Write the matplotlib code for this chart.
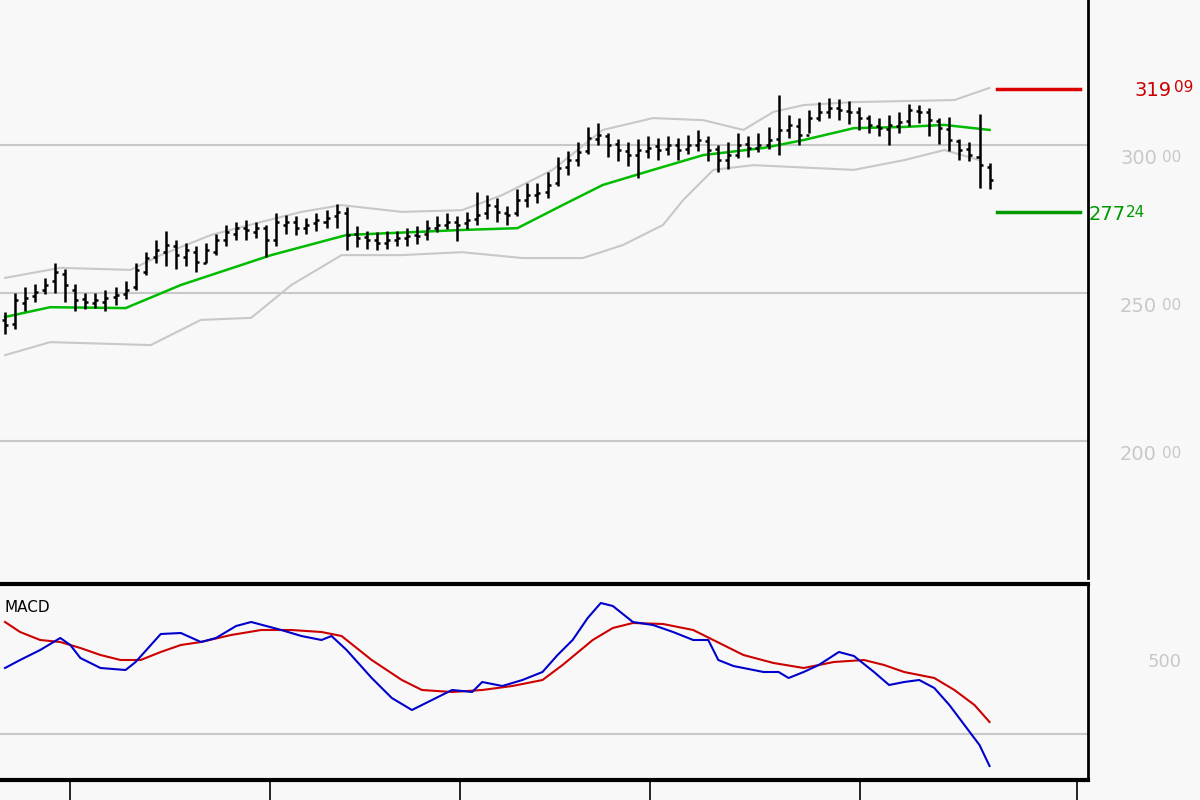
import matplotlib
matplotlib.use("Agg")
import matplotlib.pyplot as plt
from matplotlib.lines import Line2D

closes = [239.2,247.6,248.3,250.3,252.7,257.1,252.7,247.6,246.9,247.6,248.3,249.3,251.0,257.8,261.8,264.5,266.2,262.8,264.5,260.5,
          264.5,267.9,270.6,271.9,271.3,271.9,267.9,274.0,274.0,271.9,273.0,274.7,275.3,277.4,269.6,268.6,267.9,266.9,267.9,268.6,
          269.2,269.2,271.9,273.0,274.0,273.0,274.7,276.3,279.7,277.4,276.3,281.4,283.1,283.8,286.5,292.2,294.9,297.6,302.4,303.4,
          300.0,298.3,296.6,298.3,299.0,298.3,300.0,298.3,300.0,301.7,298.3,294.9,296.6,300.0,299.0,300.0,301.7,305.1,306.8,303.4,
          309.1,311.2,312.5,311.8,311.2,309.1,306.8,305.7,306.8,307.8,311.8,311.2,308.4,305.7,301.7,298.3,296.6,293.2,288.2]
opens = [241.0,239.5,246.5,249.0,251.0,254.0,256.5,251.0,248.0,246.5,247.0,248.5,249.5,252.0,257.0,262.0,264.0,266.0,262.0,264.0,
         260.0,264.0,268.0,270.0,272.0,270.5,272.0,268.0,273.0,274.0,272.0,273.5,274.0,276.0,277.0,270.0,269.0,268.0,267.0,268.0,
         268.5,269.5,270.0,272.0,273.0,274.0,273.5,275.0,277.0,279.5,277.0,277.0,281.5,283.0,284.0,287.0,292.5,295.0,298.0,302.0,
         303.0,300.5,298.0,296.5,298.0,299.5,298.5,300.0,298.5,300.0,301.5,298.5,295.0,296.5,300.5,299.0,300.0,302.0,305.0,306.5,
         303.5,309.0,311.0,312.5,311.5,311.0,309.0,306.5,305.5,306.5,308.0,311.5,311.0,308.0,305.5,301.5,298.5,296.0,292.5]
highs = [243.5,250.0,252.0,253.0,255.0,260.0,258.0,253.0,250.0,250.0,251.0,252.0,254.0,260.0,264.0,268.0,271.0,268.0,267.0,266.0,
         267.0,270.0,273.0,274.0,274.5,274.0,273.0,277.0,276.5,276.0,275.5,277.0,278.0,280.0,279.0,272.5,271.0,270.5,271.0,271.0,
         272.0,272.5,274.5,276.0,277.0,276.0,277.5,284.0,283.0,282.0,279.5,285.0,287.0,287.0,291.0,296.0,298.0,301.0,306.0,307.5,
         304.0,302.0,301.0,302.0,303.0,302.5,303.0,302.5,303.5,305.0,303.0,300.0,301.0,304.0,303.0,304.0,306.0,317.0,310.0,309.0,
         312.0,314.5,316.0,315.5,315.0,313.0,310.0,309.0,310.0,311.0,314.0,313.5,312.5,309.0,309.5,302.0,301.0,310.5,294.0]
lows = [236.0,238.0,244.0,247.0,249.5,250.0,247.0,244.0,244.5,245.0,244.0,246.0,248.0,251.0,256.0,260.0,259.0,258.0,259.0,257.0,
        260.0,263.0,266.0,268.0,268.0,268.5,262.0,266.0,270.0,269.5,270.0,271.0,272.0,272.0,264.5,265.5,265.0,264.5,265.0,266.0,
        266.0,266.5,268.0,270.5,271.5,267.5,271.5,273.0,275.0,274.0,273.0,276.0,279.0,280.5,282.0,286.0,290.0,293.0,297.0,300.0,
        296.0,294.5,293.0,289.0,295.5,295.0,296.5,295.0,297.0,298.0,294.5,291.0,292.0,295.5,296.0,297.5,298.5,296.5,302.5,300.0,
        304.0,308.0,309.0,308.5,307.0,305.0,304.0,303.0,300.0,304.0,306.5,307.5,303.0,300.5,298.0,295.0,294.5,285.5,285.0]

ma_pos = [0,4.5,12,17.5,26.5,34,45.5,51,55.5,59.5,64.5,69.5,75.5,79.5,84.5,89.5,93.5,98]
ma_val = [241.9,245.2,244.9,252.7,262.8,269.6,271.3,271.9,279.7,286.5,291.6,296.6,299.0,301.7,305.7,306.1,306.8,305.1]
up_pos = [0,5.5,12.5,15.5,20.5,25.5,29.5,33.5,39.5,45.5,49.5,54.5,59.5,64.5,69.5,73.5,76.5,79.5,84.5,94.5,98]
up_val = [255.1,258.5,257.8,262.8,269.6,274.0,277.4,279.7,277.4,278.0,283.1,291.6,305.1,309.1,308.4,305.1,311.2,313.5,314.5,315.2,319.3]
lo_pos = [0,4.5,14.5,19.5,24.5,28.5,33.5,39.5,45.5,51.5,57.5,61.5,65.5,67.5,70.5,74.5,84.5,89.5,93.5,97]
lo_val = [229.0,233.4,232.4,240.9,241.6,252.7,262.8,262.8,263.8,261.8,261.8,266.2,273.0,281.4,291.6,293.2,291.6,294.9,298.3,294.9]

macd_pos = [0,1.5,3.5,5.5,6.5,7.5,9.5,12,13,15.5,17.5,19.5,21,23,24.5,26,27.5,29.5,31.5,32.5,34,36.5,38.5,40.5,42.5,44.5,46.5,47.5,
            49.5,51.5,53.5,55,56.5,58,59.3,60.5,62.5,64.5,66.5,68.5,70,71,72.5,75.5,77,78,79.5,81,83,84.5,86.5,88,89.5,91,92.5,94,95.5,97,98]
macd_val = [6.6,7.4,8.4,9.6,8.9,7.6,6.6,6.4,7.2,10.0,10.1,9.2,9.6,10.8,11.2,10.8,10.4,9.8,9.4,9.8,8.4,5.6,3.6,2.4,3.4,4.4,4.2,5.2,
            4.8,5.4,6.2,7.9,9.4,11.6,13.1,12.8,11.2,10.9,10.2,9.4,9.4,7.4,6.8,6.2,6.2,5.6,6.2,6.9,8.2,7.8,6.2,4.9,5.2,5.4,4.6,2.9,0.9,-1.1,-3.2]
sig_pos = [0,1.5,3.5,5.5,7.5,9.5,11.5,13.5,15.5,17.5,19.5,22.5,25.5,28.5,31.5,33.5,36.5,39.5,41.5,44.5,47.5,50.5,53.5,55.5,58.5,60.5,
           62.5,65.5,68.5,70.5,73.5,76.5,79.5,82.5,85.5,87.5,89.5,92.5,94.5,96.5,98]
sig_val = [11.2,10.2,9.4,9.2,8.6,7.9,7.4,7.4,8.2,8.9,9.2,9.9,10.4,10.4,10.2,9.8,7.4,5.4,4.4,4.2,4.4,4.8,5.4,6.9,9.4,10.6,
           11.1,11.0,10.4,9.4,7.9,7.1,6.6,7.2,7.4,6.9,6.2,5.6,4.4,2.9,1.2]

price_grid = [300, 250, 200]
price_labels = [("300", "00"), ("250", "00"), ("200", "00")]
resistance = 319.09
support = 277.24

bg = "#f8f8f8"
fig = plt.figure(figsize=(12, 8), dpi=100, facecolor=bg)
ax = fig.add_axes([0, 1 - 578/800, 1088/1200, 578/800], facecolor=bg)
ax2 = fig.add_axes([0, 20/800, 1088/1200, 196/800], facecolor=bg)

xl = (-0.5, 107.8)
ax.set_xlim(*xl); ax.set_ylim(153.7, 349)
for g in price_grid:
    ax.axhline(g, color="#c8c8c8", lw=1.5, zorder=0)
ax.plot(up_pos, up_val, color="#c8c8c8", lw=1.5)
ax.plot(lo_pos, lo_val, color="#c8c8c8", lw=1.5)
ax.plot(ma_pos, ma_val, color="#00bb00", lw=1.8)
for i, (o, h, l, c) in enumerate(zip(opens, highs, lows, closes)):
    ax.plot([i, i], [l, h], color="black", lw=1.8, solid_capstyle="butt")
    ax.plot([i - 0.3, i], [o, o], color="black", lw=1.8, solid_capstyle="butt")
    ax.plot([i, i + 0.3], [c, c], color="black", lw=1.8, solid_capstyle="butt")
ax.plot([98.7, 107], [resistance, resistance], color="#dd0000", lw=2.5)
ax.plot([98.7, 107], [support, support], color="#009900", lw=2.5)
for s in ["top", "left", "bottom"]:
    ax.spines[s].set_visible(False)
ax.spines["right"].set_linewidth(2)
ax.set_xticks([]); ax.set_yticks([])
ytr = ax.get_yaxis_transform()
for g, (a, b) in zip(price_grid, price_labels):
    ax.text(1.0 + 32/1088, g - 1.5, a, transform=ytr, fontsize=14, color="#c8c8c8", va="top", ha="left", clip_on=False)
    ax.text(1.0 + 74/1088, g - 1.6, b, transform=ytr, fontsize=11, color="#c8c8c8", va="top", ha="left", clip_on=False)
ax.text(1.0 + 46/1088, resistance - 0.8, "319", transform=ytr, fontsize=14, color="#cc0000", va="center", ha="left", clip_on=False)
ax.text(1.0 + 86/1088, resistance + 0.2, "09", transform=ytr, fontsize=11, color="#cc0000", va="center", ha="left", clip_on=False)
ax.text(1.0 + 1/1088, support - 0.8, "277", transform=ytr, fontsize=14, color="#009900", va="center", ha="left", clip_on=False)
ax.text(1.0 + 38/1088, support, "24", transform=ytr, fontsize=11, color="#009900", va="center", ha="left", clip_on=False)

ax2.set_xlim(*xl); ax2.set_ylim(-4.6, 15.0)
ax2.axhline(0, color="#c8c8c8", lw=1.5, zorder=0)
ax2.plot(sig_pos, sig_val, color="#cc0000", lw=1.5)
ax2.plot(macd_pos, macd_val, color="#0000cc", lw=1.5)
ax2.text(5/1088, 0.88, "MACD", transform=ax2.transAxes, fontsize=11, color="black", va="center")
ax2.text(1.0 + 60/1088, 7.2, "500", transform=ax2.get_yaxis_transform(), fontsize=13, color="#c8c8c8",
         va="center", ha="left", clip_on=False)
ax2.spines["left"].set_visible(False)
ax2.spines["top"].set_linewidth(3)
ax2.spines["right"].set_linewidth(2)
ax2.spines["bottom"].set_linewidth(3)
ax2.set_xticks([]); ax2.set_yticks([])

for xp in [70, 270, 460, 650, 860, 1077]:
    fig.add_artist(Line2D([xp/1200, xp/1200], [0, 20/800], color="black", lw=1.2))

fig.savefig("out.png", dpi=100, facecolor=bg)
